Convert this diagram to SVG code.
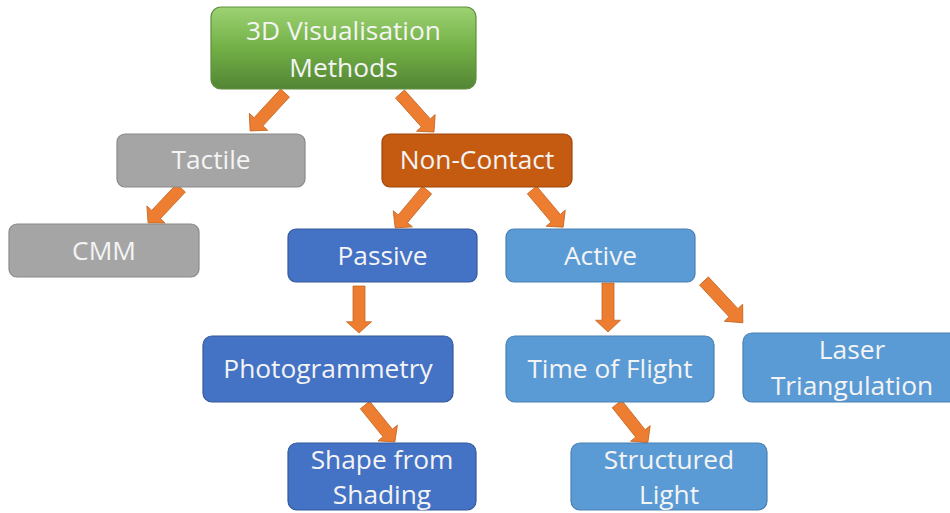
<svg xmlns="http://www.w3.org/2000/svg" width="950" height="513" viewBox="0 0 950 513">
  <defs>
    <linearGradient id="greenFill" x1="0" y1="0" x2="0" y2="1">
      <stop offset="0" stop-color="#9dd273"/>
      <stop offset="0.5" stop-color="#72b046"/>
      <stop offset="1" stop-color="#538534"/>
    </linearGradient>
    <!-- block arrow pointing along +x, 50px long; scaled per connector -->
    <path id="blk" d="M0,-6 H38 V-12.5 L50,0 L38,12.5 V6 H0 Z"/>
  </defs>
  <style>
    .box { stroke-width: 1.2; }
    .green { fill: url(#greenFill); stroke: #5e8f3e; }
    .gray { fill: #a5a5a5; stroke: #8a8a8a; }
    .orange { fill: #c55a11; stroke: #9e470c; }
    .blue { fill: #4472c4; stroke: #34599b; }
    .lblue { fill: #5b9bd5; stroke: #4a80b2; }
    .lbl { font-family: "Open Sans", "Noto Sans", sans-serif; font-size: 26.3px; fill: #f4f4f4; text-anchor: middle; }
    .arrow use { fill: #ed7d31; stroke: #c4651f; stroke-width: 0.8; }
  </style>

  <g id="connectors" class="arrow">
    <use href="#blk" transform="translate(285,93) rotate(132.6) scale(1.03,1)"/>
    <use href="#blk" transform="translate(400,94) rotate(48.2) scale(1.02,1)"/>
    <use href="#blk" transform="translate(181,188) rotate(133.3) scale(0.96,1)"/>
    <use href="#blk" transform="translate(427,190) rotate(130) scale(0.99,1)"/>
    <use href="#blk" transform="translate(532,190) rotate(50) scale(0.97,1)"/>
    <use href="#blk" transform="translate(359,286) rotate(90) scale(0.94,1)"/>
    <use href="#blk" transform="translate(608,283) rotate(90) scale(0.98,1)"/>
    <use href="#blk" transform="translate(704,281) rotate(47.1) scale(1.14,1)"/>
    <use href="#blk" transform="translate(365,405) rotate(51) scale(0.95,1)"/>
    <use href="#blk" transform="translate(617,404) rotate(51.5) scale(0.99,1)"/>
  </g>

  <g id="node-3d-visualisation-methods">
    <rect class="box green" x="211" y="7" width="265" height="82" rx="10"/>
    <text class="lbl" x="343.5" y="40">3D Visualisation</text>
    <text class="lbl" x="343.5" y="77">Methods</text>
  </g>
  <g id="node-tactile">
    <rect class="box gray" x="117" y="134" width="188" height="53" rx="8"/>
    <text class="lbl" x="211" y="169">Tactile</text>
  </g>
  <g id="node-non-contact">
    <rect class="box orange" x="382" y="134" width="190" height="53" rx="8"/>
    <text class="lbl" x="477" y="169">Non-Contact</text>
  </g>
  <g id="node-cmm">
    <rect class="box gray" x="9" y="224" width="190" height="53" rx="8"/>
    <text class="lbl" x="104" y="260">CMM</text>
  </g>
  <g id="node-passive">
    <rect class="box blue" x="288" y="229" width="189" height="53" rx="8"/>
    <text class="lbl" x="382.5" y="265">Passive</text>
  </g>
  <g id="node-active">
    <rect class="box lblue" x="506" y="229" width="189" height="53" rx="8"/>
    <text class="lbl" x="600.5" y="265">Active</text>
  </g>
  <g id="node-photogrammetry">
    <rect class="box blue" x="203" y="336" width="250" height="66" rx="9"/>
    <text class="lbl" x="328" y="378">Photogrammetry</text>
  </g>
  <g id="node-time-of-flight">
    <rect class="box lblue" x="506" y="336" width="208" height="66" rx="9"/>
    <text class="lbl" x="610" y="378">Time of Flight</text>
  </g>
  <g id="node-laser-triangulation">
    <rect class="box lblue" x="743" y="333" width="216" height="69" rx="9"/>
    <text class="lbl" x="852" y="359">Laser</text>
    <text class="lbl" x="852" y="395">Triangulation</text>
  </g>
  <g id="node-shape-from-shading">
    <rect class="box blue" x="288" y="443" width="188" height="67" rx="9"/>
    <text class="lbl" x="382" y="469">Shape from</text>
    <text class="lbl" x="382" y="504">Shading</text>
  </g>
  <g id="node-structured-light">
    <rect class="box lblue" x="571" y="443" width="196" height="67" rx="9"/>
    <text class="lbl" x="669" y="469">Structured</text>
    <text class="lbl" x="669" y="504">Light</text>
  </g>
</svg>
